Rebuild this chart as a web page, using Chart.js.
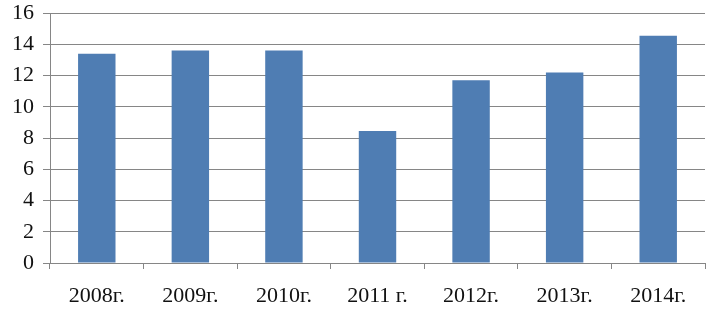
<!DOCTYPE html>
<html>
<head>
<meta charset="utf-8">
<script src="https://cdn.jsdelivr.net/npm/chart.js@4"></script>
<style>
  html, body { margin: 0; padding: 0; background: #fff; }
  #wrap { width: 713px; height: 314px; }
</style>
</head>
<body>
<div id="wrap"><canvas id="grafico"></canvas></div>
<script>
// Dados
const categorias = ["2008г.", "2009г.", "2010г.", "2011 г.", "2012г.", "2013г.", "2014г."];
const valores = [13.4, 13.6, 13.6, 8.45, 11.7, 12.2, 14.55];
const ticksY = [0, 2, 4, 6, 8, 10, 12, 14, 16];

const corGrade = "#868686";
const fonte = { family: "'Liberation Serif', 'Times New Roman', serif", size: 22 };

new Chart(document.getElementById("grafico"), {
  type: "bar",
  data: {
    labels: categorias,
    datasets: [{
      data: valores,
      backgroundColor: "#4f7db3",
      categoryPercentage: 1,
      barPercentage: 0.4
    }]
  },
  options: {
    responsive: true,
    maintainAspectRatio: false,
    animation: false,
    layout: { padding: { top: 13, right: 8, left: 0, bottom: 0 } },
    plugins: { legend: { display: false }, tooltip: { enabled: false } },
    scales: {
      x: {
        grid: { drawOnChartArea: false, drawTicks: true, tickLength: 6, color: corGrade, offset: true },
        border: { color: corGrade },
        ticks: { font: fonte, color: "#111", padding: 14, maxRotation: 0 },
        afterFit: s => { s.height = 51; s.paddingLeft = 0; s.paddingRight = 0; }
      },
      y: {
        min: 0,
        max: 16,
        afterBuildTicks: s => { s.ticks = ticksY.map(v => ({ value: v })); },
        grid: { color: corGrade, tickLength: 7 },
        border: { color: corGrade },
        ticks: { font: fonte, color: "#111", padding: 9 },
        afterFit: s => { s.width = 50; s.paddingTop = 0; s.paddingBottom = 0; }
      }
    }
  }
});
</script>
</body>
</html>
